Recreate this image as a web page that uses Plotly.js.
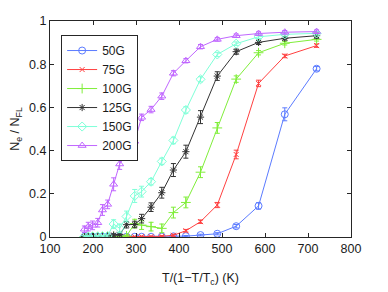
<!DOCTYPE html>
<html>
<head>
<meta charset="utf-8">
<script src="https://cdn.plot.ly/plotly-3.0.1.min.js"></script>
<style>html,body{margin:0;padding:0;background:#fff;}#chart{width:388px;height:292px;}</style>
</head>
<body>
<div id="chart"></div>
<script>
var xT = [180,189,199,211,222,234,248,262,278,297,313,335,360,387,416,450,489,533,585,646,720];

var seriesNames = ['50G','75G','100G','125G','150G','200G'];

var y50G  = [0.001,0.001,0.001,0.001,0.001,0.001,0.001,0.001,0.001,0.001,0.001,0.001,0.002,0.003,0.004,0.009,0.015,0.05,0.144,0.568,0.779];
var e50G  = [0.002,0.002,0.002,0.002,0.002,0.002,0.002,0.002,0.002,0.002,0.002,0.002,0.002,0.002,0.003,0.004,0.005,0.008,0.015,0.03,0.01];

var y75G  = [0.001,0.001,0.001,0.001,0.001,0.001,0.001,0.001,0.001,0.001,0.002,0.002,0.003,0.008,0.029,0.071,0.148,0.382,0.711,0.838,0.886];
var e75G  = [0.002,0.002,0.002,0.002,0.002,0.002,0.002,0.002,0.002,0.002,0.002,0.002,0.003,0.005,0.006,0.008,0.012,0.02,0.015,0.008,0.008];

var y100G = [0.001,0.001,0.001,0.001,0.001,0.001,0.002,0.002,0.005,0.062,0.055,0.048,0.04,0.113,0.16,0.30,0.505,0.731,0.853,0.897,0.915];
var e100G = [0.002,0.002,0.002,0.002,0.002,0.002,0.002,0.003,0.004,0.02,0.02,0.02,0.02,0.025,0.025,0.025,0.025,0.015,0.01,0.008,0.008];

var y125G = [0.002,0.002,0.002,0.002,0.003,0.004,0.009,0.012,0.057,0.058,0.085,0.138,0.205,0.31,0.395,0.555,0.745,0.858,0.901,0.92,0.932];
var e125G = [0.003,0.003,0.003,0.003,0.003,0.004,0.005,0.006,0.015,0.015,0.02,0.02,0.025,0.03,0.03,0.03,0.02,0.012,0.01,0.008,0.012];

var y150G = [0.002,0.002,0.003,0.003,0.004,0.005,0.06,0.04,0.095,0.19,0.21,0.256,0.35,0.447,0.588,0.73,0.845,0.895,0.927,0.938,0.943];
var e150G = [0.004,0.004,0.004,0.004,0.004,0.005,0.02,0.02,0.025,0.03,0.025,0.015,0.015,0.015,0.015,0.012,0.01,0.008,0.008,0.008,0.008];

var y200G = [0.036,0.048,0.054,0.066,0.125,0.151,0.244,0.338,0.385,0.443,0.554,0.59,0.652,0.758,0.816,0.881,0.915,0.932,0.942,0.948,0.951];
var e200G = [0.015,0.02,0.02,0.02,0.025,0.02,0.03,0.025,0.025,0.02,0.015,0.015,0.015,0.012,0.01,0.01,0.008,0.008,0.008,0.008,0.008];

var yData = [y50G,y75G,y100G,y125G,y150G,y200G];
var eData = [e50G,e75G,e100G,e125G,e150G,e200G];
var colors = ['#5b7bff','#ff4040','#80ee3a','#333333','#7fffd8','#c066ff'];
var symbols = ['circle-open','x-thin-open','cross-thin-open','asterisk-open','diamond-open','triangle-up-open'];
var sizes = [7,5,7,6,7,7];

var traces = seriesNames.map(function(n,i){
  return {
    x: xT, y: yData[i], name: n, type:'scatter', mode:'lines+markers',
    line:{color:colors[i], width:1},
    marker:{symbol:symbols[i], size:sizes[i], color:colors[i], line:{color:colors[i], width:1}},
    error_y:{type:'data', array:eData[i], visible:true, color:colors[i], thickness:1, width:2.5}
  };
});

var font = {family:'"Liberation Sans", Arial, sans-serif', size:12.5, color:'#1a1a1a'};
var layout = {
  width:388, height:292,
  margin:{l:50, r:37, t:21, b:55, pad:0},
  paper_bgcolor:'#fff', plot_bgcolor:'#fff',
  font:font,
  showlegend:true,
  legend:{x:0.037, y:0.935, xanchor:'left', yanchor:'top', bgcolor:'#fff', bordercolor:'#262626', borderwidth:1,
          font:{family:font.family, size:12, color:'#1a1a1a'}, itemwidth:30, tracegroupgap:0},
  xaxis:{range:[100,800], tickvals:[100,200,300,400,500,600,700,800], ticktext:['100','200','300','400','500','600','700','800'],
         ticks:'inside', ticklen:4, tickcolor:'#262626', showline:true, linecolor:'#262626', linewidth:1, mirror:'ticks',
         showgrid:false, zeroline:false,
         title:{text:'T/(1\u2212T/T<sub>c</sub>) (K)', font:{family:font.family, size:12.5, color:'#1a1a1a'}, standoff:18}},
  yaxis:{range:[0,1], tickvals:[0,0.2,0.4,0.6,0.8,1], ticktext:['0','0.2','0.4','0.6','0.8','1'],
         ticks:'inside', ticklen:4, tickcolor:'#262626', showline:true, linecolor:'#262626', linewidth:1, mirror:'ticks',
         showgrid:false, zeroline:false,
         title:{text:'N<sub>e</sub> / N<sub>FL</sub>', font:{family:font.family, size:12.5, color:'#1a1a1a'}, standoff:6}}
};
Plotly.newPlot('chart', traces, layout, {staticPlot:true, displayModeBar:false});
</script>
</body>
</html>
